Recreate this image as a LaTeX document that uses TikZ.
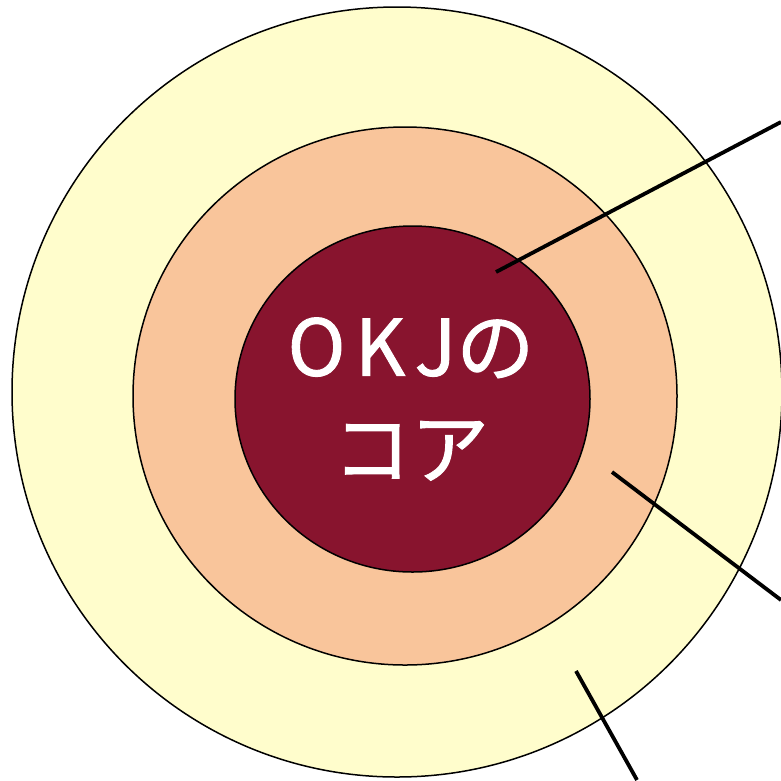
\documentclass[tikz,border=0pt]{standalone}
\usepackage{fontspec}
\newfontfamily\jpfont[FakeBold=1.2]{Noto Sans CJK JP}
\newfontfamily\jpfontwide[LetterSpace=12,FakeBold=1.2]{Noto Sans CJK JP}
\definecolor{outerc}{HTML}{FFFDCC}
\definecolor{midc}{HTML}{F9C59B}
\definecolor{innerc}{HTML}{88142E}
\tikzset{
  ring/.style={draw=black, line width=1.5pt},
  leader/.style={draw=black, line width=3.8pt}
}
\begin{document}
\begin{tikzpicture}[x=1pt,y=-1pt]
\useasboundingbox (0,0) rectangle (781,780);
\fill[outerc] (397,392) circle[radius=385];
\draw[ring] (397,392) circle[radius=385];
\fill[midc] (405,396) ellipse[x radius=272, y radius=269];
\draw[ring] (405,396) ellipse[x radius=272, y radius=269];
\fill[innerc] (412.5,399) ellipse[x radius=177.5, y radius=173];
\draw[ring] (412.5,399) ellipse[x radius=177.5, y radius=173];
\node[text=white, align=center, font={\jpfont\fontsize{78}{102}\selectfont}] (core) at (411,399) {{\jpfontwide OKJ}の\\コア};
\coordinate (p1) at (496,272);
\coordinate (q1) at (781,122);
\coordinate (p2) at (612,472);
\coordinate (q2) at (781,600);
\coordinate (p3) at (576,671);
\coordinate (q3) at (637,780);
\draw[leader] (p1) -- (q1);
\draw[leader] (p2) -- (q2);
\draw[leader] (p3) -- (q3);
\end{tikzpicture}
\end{document}
